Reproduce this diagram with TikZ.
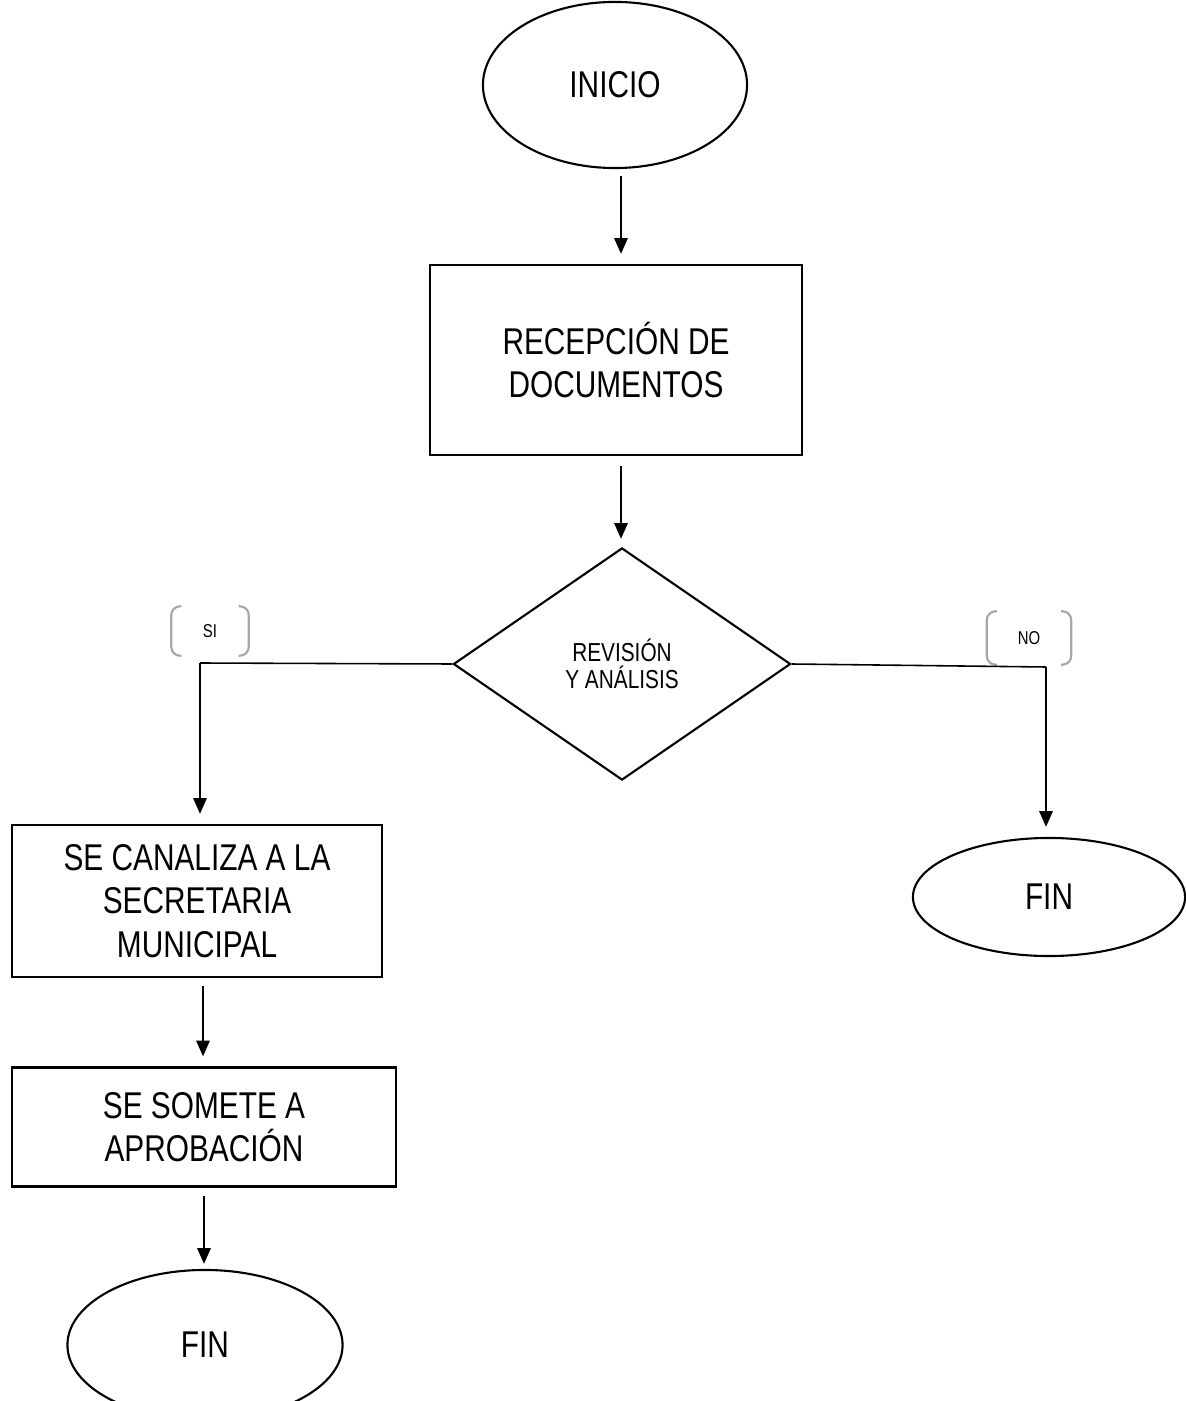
\documentclass[tikz,border=0pt]{standalone}
\usepackage{fontspec}
\setmainfont[FakeStretch=0.8]{Liberation Sans}
\usetikzlibrary{shapes.geometric,arrows.meta}

\begin{document}
\begin{tikzpicture}[x=0.01cm,y=-0.01cm,
	caja/.style={draw,line width=0.6pt,inner sep=0pt,align=center,font=\fontsize{10.6}{12.4}\selectfont},
	elipse/.style={draw,ellipse,line width=0.6pt,inner sep=0pt,font=\fontsize{10.6}{12.4}\selectfont},
	flecha/.style={line width=0.6pt,-{Triangle[length=4.5pt,width=3.8pt]}},
	linea/.style={line width=0.45pt},
	corchete/.style={draw=black!35,line width=0.6pt,rounded corners=2.5pt},
	rotulo/.style={inner sep=0pt,font=\fontsize{5.3}{6}\selectfont}]
\useasboundingbox (0,0) rectangle (1186,1401);
		\node[elipse,minimum width=2.64cm,minimum height=1.66cm] (inicio) at (615,85) {INICIO};
		\node[caja,minimum width=3.72cm,minimum height=1.90cm] (recep) at (616,360) {RECEPCIÓN DE\\DOCUMENTOS};
		\node[diamond,draw,line width=0.6pt,aspect=1.45,minimum width=3.37cm,minimum height=2.32cm,inner sep=0pt,align=center,font=\fontsize{7.4}{7.8}\selectfont] (rev) at (622,664) {REVISIÓN\\Y ANÁLISIS};
		\node[caja,minimum width=3.70cm,minimum height=1.52cm] (canal) at (197,901) {SE CANALIZA A LA\\SECRETARIA\\MUNICIPAL};
		\node[caja,minimum width=3.84cm,minimum height=1.19cm] (somete) at (204,1127) {SE SOMETE A\\APROBACIÓN};
		\node[elipse,minimum width=2.75cm,minimum height=1.50cm] (fin1) at (205,1345) {FIN};
		\node[elipse,minimum width=2.72cm,minimum height=1.18cm] (fin2) at (1049,897) {FIN};
		% rotulos de la decision
		\node[rotulo,minimum width=0.76cm,minimum height=0.48cm] (si) at (210,631) {SI};
		\node[rotulo,minimum width=0.83cm,minimum height=0.52cm] (no) at (1029,638) {NO};
		\foreach \r in {si,no}{
			\draw[corchete] ([xshift=0.1cm]\r.north west) -- (\r.north west) -- (\r.south west) -- ([xshift=0.1cm]\r.south west);
			\draw[corchete] ([xshift=-0.1cm]\r.north east) -- (\r.north east) -- (\r.south east) -- ([xshift=-0.1cm]\r.south east);
		}
		\coordinate (esqsi) at (200,663);
		\coordinate (esqno) at (1046,667);
		% conectores
		\draw[flecha,shorten <=2pt,shorten >=0.1cm] ([xshift=0.06cm]inicio.south) -- ([xshift=0.06cm]inicio.south |- recep.north);
		\draw[flecha,shorten <=0.1cm,shorten >=0.08cm] ([xshift=0.05cm]recep.south) -- ([xshift=0.05cm]recep.south |- rev.north);
		\draw[linea] (rev.west) -- (esqsi);
		\draw[flecha] (esqsi) -- ([yshift=0.1cm]esqsi |- canal.north);
		\draw[linea] (rev.east) -- (esqno);
		\draw[flecha] (esqno) -- ([yshift=0.1cm]esqno |- fin2.north);
		\draw[flecha,shorten <=0.08cm,shorten >=0.1cm] ([xshift=0.06cm]canal.south) -- ([xshift=0.06cm]canal.south |- somete.north);
		\draw[flecha,shorten <=0.08cm,shorten >=0.05cm] (somete.south) -- (somete.south |- fin1.north);
\end{tikzpicture}
\end{document}
